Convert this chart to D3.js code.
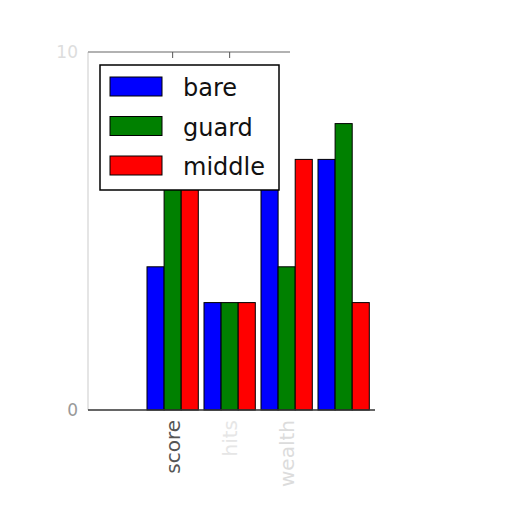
<!DOCTYPE html>
<html><head><meta charset="utf-8">
<script src="https://cdn.jsdelivr.net/npm/d3@7"></script>
<style>body{margin:0;background:#fff}svg{display:block}</style>
</head><body>
<script>
const groups = [0, 1, 2, 3, 4];
const tickLabels = ["", "score", "hits", "wealth", ""];
const tickColors = ["#fff", "#555", "#e6e6e6", "#dcdcdc", "#fff"];
const seriesNames = ["bare", "guard", "middle"];
const seriesColors = ["#0000ff", "#008000", "#ff0000"];
const bare = [0, 4, 3, 7, 7];
const guard = [0, 9, 3, 4, 8];
const middle = [0, 8, 3, 7, 3];
const series = [bare, guard, middle];
const yTicks = [0, 10];
const yTickColors = ["#999", "#ddd"];

const W = 512, H = 512;
const svg = d3.select("body").append("svg").attr("width", W).attr("height", H);
const x = d3.scaleLinear().domain([0, 5.035]).range([88, 375]);
const y = d3.scaleLinear().domain([0, 10]).range([410, 52]);
const off = 0.035, bw = 0.3;

// frame
svg.append("line").attr("x1", x(0)).attr("x2", x(0)).attr("y1", y(0)).attr("y2", y(10)).attr("stroke", "#ddd").attr("stroke-width", 1.5);
svg.append("line").attr("x1", x(0)).attr("x2", 290).attr("y1", y(10)).attr("y2", y(10)).attr("stroke", "#999").attr("stroke-width", 1.5);

// bars
series.forEach((vals, s) => {
  svg.append("g").selectAll("rect").data(groups).join("rect")
    .attr("x", g => x(g + off + s * bw))
    .attr("width", x(bw) - x(0))
    .attr("y", g => y(series[s][g]))
    .attr("height", g => y(0) - y(series[s][g]))
    .attr("fill", seriesColors[s])
    .attr("stroke", "#000").attr("stroke-width", 1);
});

// bottom axis line
svg.append("line").attr("x1", x(0)).attr("x2", x(5.035)).attr("y1", y(0)).attr("y2", y(0)).attr("stroke", "#333").attr("stroke-width", 1.5);

// top ticks
[1, 2].forEach(g => {
  const tx = x(g + off + 1.5 * bw);
  svg.append("line").attr("x1", tx).attr("x2", tx).attr("y1", y(10)).attr("y2", y(10) + 6).attr("stroke", "#555");
});

// x tick labels (rotated)
groups.forEach(g => {
  if (!tickLabels[g]) return;
  const tx = x(g + off + 1.5 * bw);
  svg.append("text").attr("transform", `translate(${tx + 7},${y(0) + 10}) rotate(-90)`)
    .attr("text-anchor", "end").attr("font-family", "DejaVu Sans").attr("font-size", 20)
    .attr("fill", tickColors[g]).text(tickLabels[g]);
});

// y tick labels
yTicks.forEach((t, i) => {
  svg.append("text").attr("x", x(0) - 10).attr("y", y(t) + 6).attr("text-anchor", "end")
    .attr("font-family", "DejaVu Sans").attr("font-size", 17).attr("fill", yTickColors[i]).text(t);
});

// legend
const lg = svg.append("g");
lg.append("rect").attr("x", 100).attr("y", 65).attr("width", 179).attr("height", 125)
  .attr("fill", "#fff").attr("stroke", "#000").attr("stroke-width", 1.5);
seriesNames.forEach((n, i) => {
  const yy = 77 + i * 39.5;
  lg.append("rect").attr("x", 110).attr("y", yy).attr("width", 52).attr("height", 19)
    .attr("fill", seriesColors[i]).attr("stroke", "#000").attr("stroke-width", 1);
  lg.append("text").attr("x", 183).attr("y", yy + 19).attr("font-family", "DejaVu Sans")
    .attr("font-size", 24).attr("fill", "#111").text(n);
});
</script>
</body></html>
